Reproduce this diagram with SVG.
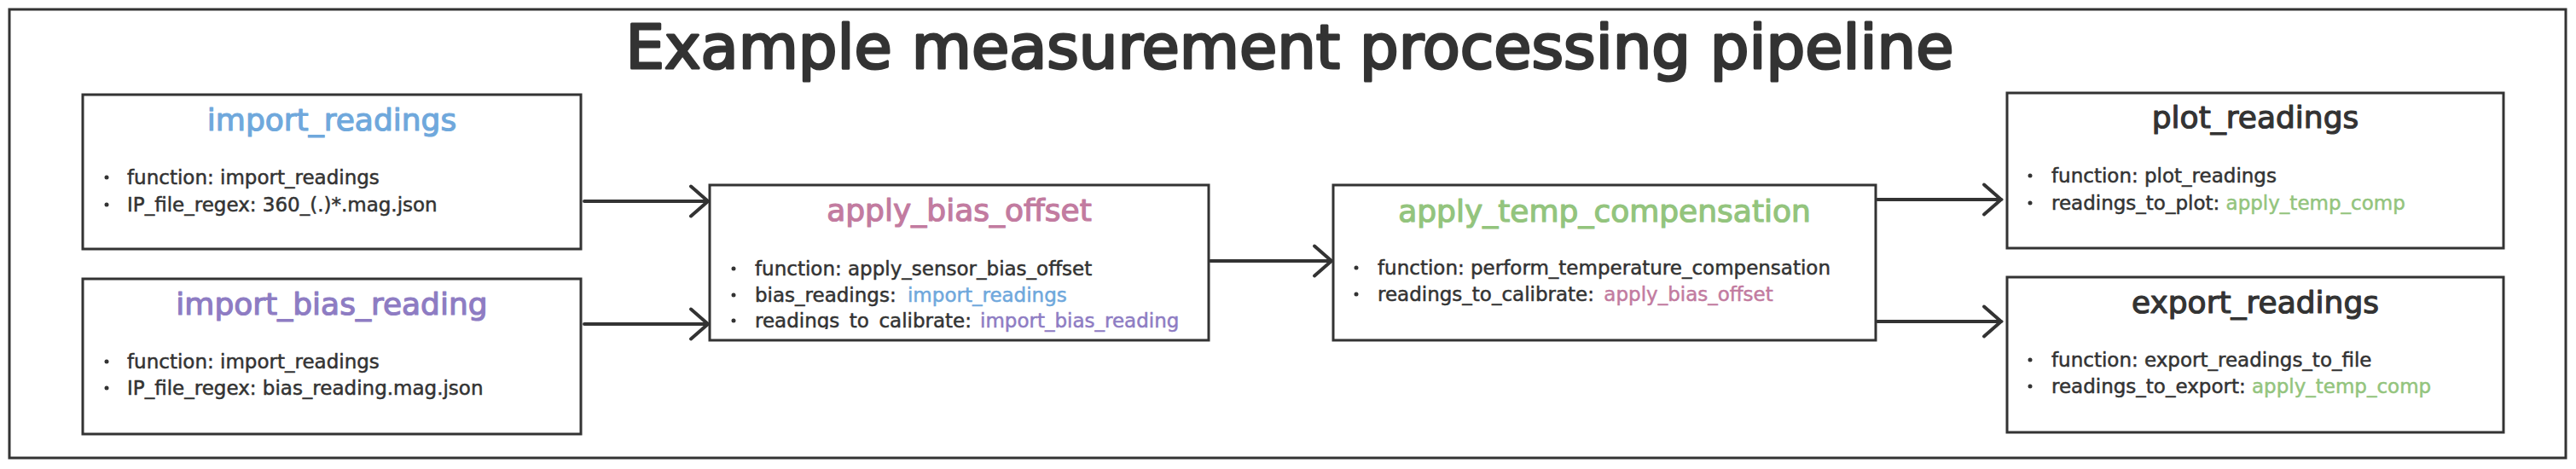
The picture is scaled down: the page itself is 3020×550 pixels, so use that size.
<svg xmlns="http://www.w3.org/2000/svg" width="3020" height="550" viewBox="0 0 3020 550">
<style>
  .frame{fill:#fff;stroke:#333;stroke-width:3}
  .box{fill:#fff;stroke:#333;stroke-width:3}
  .title{font-family:"DejaVu Sans",sans-serif;font-size:72px;fill:#333;stroke:#333;stroke-width:3;stroke-linejoin:round;text-anchor:middle}
  .ntitle{font-family:"DejaVu Sans",sans-serif;font-size:36px;text-anchor:middle;stroke-width:1.2;stroke-linejoin:round}
  .body{font-family:"DejaVu Sans",sans-serif;font-size:23px;fill:#333;stroke:#333;stroke-width:0.5;stroke-linejoin:round}
  .dot{fill:#333}
  .conn{stroke:#333;stroke-width:4;fill:none;stroke-linecap:round}
  .blue{fill:#6fa8dc;stroke:#6fa8dc}.purple{fill:#8e7cc3;stroke:#8e7cc3}.pink{fill:#c27ba0;stroke:#c27ba0}.green{fill:#93c47d;stroke:#93c47d}.dark{fill:#333;stroke:#333}
</style>
<defs>
  <marker id="arr" markerUnits="userSpaceOnUse" markerWidth="30" markerHeight="44" viewBox="-24 -22 30 44" refX="0" refY="0" orient="auto">
    <path d="M -20 -17.5 L 0 0 L -20 17.5" fill="none" stroke="#333" stroke-width="4" stroke-linecap="round" stroke-linejoin="miter"/>
  </marker>
  <clipPath id="clipLine"><rect x="880" y="355" width="300" height="31"/></clipPath>
</defs>
<rect class="frame" x="11" y="11" width="2997" height="526"/>
<text class="title" x="1512" y="80">Example measurement processing pipeline</text>

<g id="connectors">
  <line class="conn" x1="685" y1="236" x2="830" y2="236" marker-end="url(#arr)"/>
  <line class="conn" x1="685" y1="380" x2="830" y2="380" marker-end="url(#arr)"/>
  <line class="conn" x1="1419" y1="306" x2="1561" y2="306" marker-end="url(#arr)"/>
  <line class="conn" x1="2201" y1="234" x2="2346" y2="234" marker-end="url(#arr)"/>
  <line class="conn" x1="2201" y1="377" x2="2346" y2="377" marker-end="url(#arr)"/>
</g>

<g id="import_readings">
  <rect class="box" x="97" y="111" width="584" height="181"/>
  <text class="ntitle blue" x="389" y="153">import_readings</text>
  <circle class="dot" cx="125" cy="208" r="2.5"/>
  <text class="body" x="149" y="216">function: import_readings</text>
  <circle class="dot" cx="125" cy="240" r="2.5"/>
  <text class="body" x="149" y="248">IP_file_regex: 360_(.)*.mag.json</text>
</g>

<g id="import_bias_reading">
  <rect class="box" x="97" y="327" width="584" height="182"/>
  <text class="ntitle purple" x="389" y="369">import_bias_reading</text>
  <circle class="dot" cx="125" cy="424" r="2.5"/>
  <text class="body" x="149" y="432">function: import_readings</text>
  <circle class="dot" cx="125" cy="455" r="2.5"/>
  <text class="body" x="149" y="463">IP_file_regex: bias_reading.mag.json</text>
</g>

<g id="apply_bias_offset">
  <rect class="box" x="832" y="217" width="585" height="182"/>
  <text class="ntitle pink" x="1124.5" y="259">apply_bias_offset</text>
  <circle class="dot" cx="860" cy="315" r="2.5"/>
  <text class="body" x="885" y="323">function: apply_sensor_bias_offset</text>
  <circle class="dot" cx="860" cy="346" r="2.5"/>
  <text class="body" x="885" y="354">bias_readings: <tspan class="blue" dx="6">import_readings</tspan></text>
  <circle class="dot" cx="860" cy="376" r="2.5"/>
  <text class="body" x="885" y="384" clip-path="url(#clipLine)">readings_to_calibrate:</text>
  <text class="body purple" x="1149" y="384">import_bias_reading</text>
</g>

<g id="apply_temp_compensation">
  <rect class="box" x="1563" y="217" width="636" height="182"/>
  <text class="ntitle green" x="1881" y="260">apply_temp_compensation</text>
  <circle class="dot" cx="1590" cy="314" r="2.5"/>
  <text class="body" x="1615" y="322">function: perform_temperature_compensation</text>
  <circle class="dot" cx="1590" cy="345" r="2.5"/>
  <text class="body" x="1615" y="353">readings_to_calibrate: <tspan class="pink" dx="4">apply_bias_offset</tspan></text>
</g>

<g id="plot_readings">
  <rect class="box" x="2353" y="109" width="582" height="182"/>
  <text class="ntitle dark" x="2644" y="150">plot_readings</text>
  <circle class="dot" cx="2380" cy="206" r="2.5"/>
  <text class="body" x="2405" y="214">function: plot_readings</text>
  <circle class="dot" cx="2380" cy="238" r="2.5"/>
  <text class="body" x="2405" y="246">readings_to_plot: <tspan class="green">apply_temp_comp</tspan></text>
</g>

<g id="export_readings">
  <rect class="box" x="2353" y="325" width="582" height="182"/>
  <text class="ntitle dark" x="2644" y="367">export_readings</text>
  <circle class="dot" cx="2380" cy="422" r="2.5"/>
  <text class="body" x="2405" y="430">function: export_readings_to_file</text>
  <circle class="dot" cx="2380" cy="453" r="2.5"/>
  <text class="body" x="2405" y="461">readings_to_export: <tspan class="green">apply_temp_comp</tspan></text>
</g>
</svg>
